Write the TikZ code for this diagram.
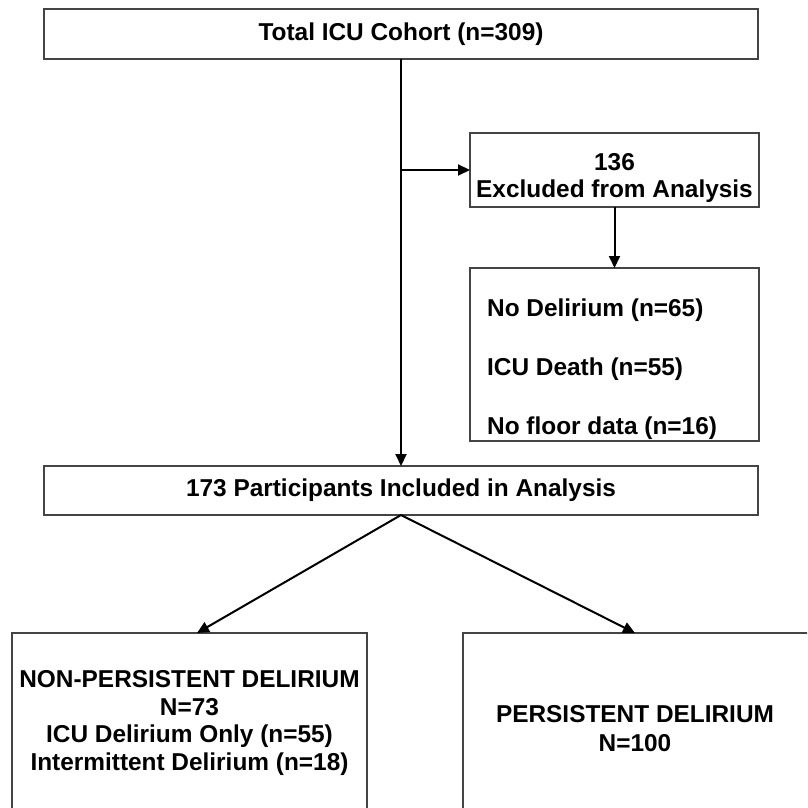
\documentclass[tikz,border=0pt]{standalone}
\usepackage{fontspec}
\setmainfont{Liberation Sans}
\usetikzlibrary{arrows.meta}
\definecolor{boxgray}{HTML}{444444}
\newcommand\lblfont{\bfseries\fontsize{24.4}{27.5}\selectfont}
\tikzset{
  box/.style={draw=boxgray,line width=1.4pt,rectangle,inner sep=0pt,outer sep=0pt},
  lbl/.style={font=\lblfont,inner sep=0pt,align=center},
  conn/.style={line width=2pt,black},
  arr/.style={conn,-{Triangle[length=12pt,width=11pt]}}
}
\begin{document}
\begin{tikzpicture}[x=1pt,y=-1pt]
\useasboundingbox (0,0) rectangle (807,808);
\clip (0,0) rectangle (807,808);
% boxes
\node[box,minimum width=714pt,minimum height=50pt,font=\lblfont] (top) at (401,34) {Total ICU Cohort (n=309)};
\node[box,minimum width=289pt,minimum height=74pt] (excl) at (614.5,170) {};
\node[lbl] (exlbl) at (614.5,178) {136\\Excluded from Analysis};
\node[box,minimum width=289pt,minimum height=173pt] (reas) at (614.5,354.5) {};
\node[lbl,align=left,anchor=west,font=\bfseries\fontsize{24.4}{59.3}\selectfont] (reaslbl) at (487,369) {No Delirium (n=65)\\ICU Death (n=55)\\No floor data (n=16)};
\node[box,minimum width=714pt,minimum height=49pt,font=\lblfont] (incl) at (401,490.5) {173 Participants Included in Analysis};
\node[box,minimum width=355pt,minimum height=200pt,anchor=north] (npd) at (189.5,633) {};
\node[lbl] (npdlbl) at (189.5,723) {NON-PERSISTENT DELIRIUM\\N=73\\ICU Delirium Only (n=55)\\Intermittent Delirium (n=18)};
\node[box,minimum width=400pt,minimum height=200pt,anchor=north] (pd) at (663,633) {};
\node[lbl,font=\bfseries\fontsize{24.4}{29}\selectfont] (pdlbl) at (635,729) {PERSISTENT DELIRIUM\\N=100};
% connectors
\coordinate (br) at (top.south |- excl.west);
\draw[arr] (top.south) -- (incl.north);
\draw[arr] (br) -- (excl.west);
\draw[arr] (excl.south) -- (reas.north);
\draw[arr] (incl.south) -- ([xshift=7.5pt]npd.north);
\draw[arr] (incl.south) -- ([xshift=-28pt]pd.north);
\end{tikzpicture}
\end{document}
